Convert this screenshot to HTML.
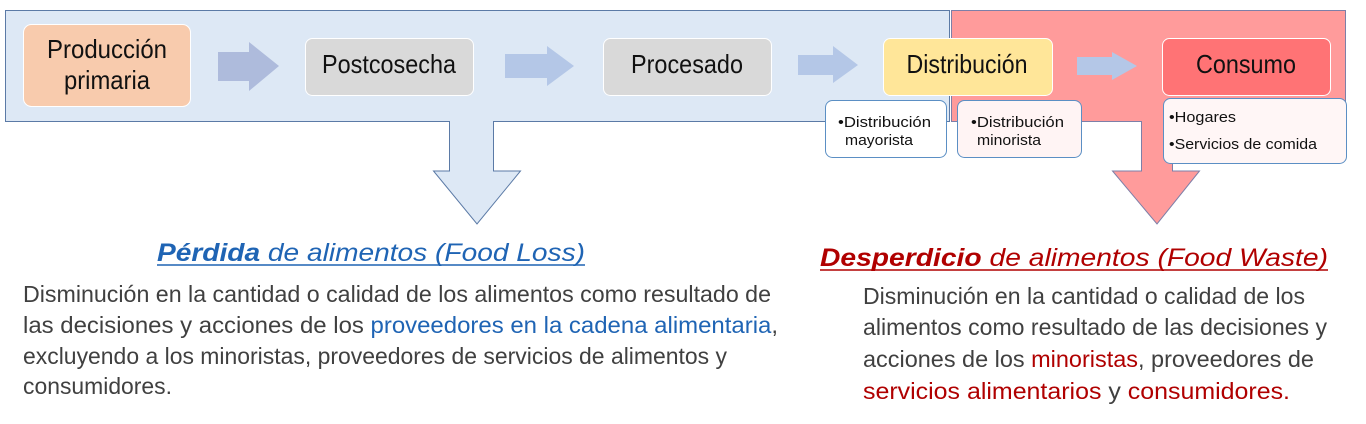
<!DOCTYPE html>
<html><head><meta charset="utf-8"><style>
html,body{margin:0;padding:0;background:#fff;}
svg{display:block;}
</style></head><body>
<svg width="1366" height="424" viewBox="0 0 1366 424" xmlns="http://www.w3.org/2000/svg">
<rect x="5.5" y="10.5" width="944" height="111" fill="#dde8f5" stroke="#5b7aa6" stroke-width="1"/>
<rect x="951.5" y="10.5" width="394" height="111" fill="#ff9b9b" stroke="#7d7fa8" stroke-width="1"/>
<polygon points="449.5,121.5 493.5,121.5 493.5,171 520.5,171 477,224 433.5,171 449.5,171" fill="#dde8f5" stroke="#5b7aa6" stroke-width="1"/>
<rect x="450" y="119" width="43" height="4" fill="#dde8f5"/>
<polygon points="1141.5,121.5 1172.5,121.5 1172.5,171 1199.5,171 1157,224 1112.5,171 1141.5,171" fill="#ff9b9b" stroke="#7d7fa8" stroke-width="1"/>
<rect x="1142" y="119" width="30" height="4" fill="#ff9b9b"/>
<rect x="23.5" y="24.5" width="167" height="82" rx="8" fill="#f8cbad" stroke="#fff"/>
<rect x="305.5" y="38.5" width="168" height="57" rx="7" fill="#d9d9d9" stroke="#fff"/>
<rect x="603.5" y="38.5" width="168" height="57" rx="7" fill="#d9d9d9" stroke="#fff"/>
<rect x="883.5" y="38.5" width="169" height="57" rx="7" fill="#ffe699" stroke="#fff"/>
<rect x="1162.5" y="38.5" width="168" height="57" rx="7" fill="#ff7375" stroke="#fff"/>
<polygon points="218,52 249,52 249,42 279,66 249,91 249,81 218,81" fill="#aebbdc"/>
<polygon points="505,54 547,54 547,46 574,66 547,86 547,78 505,78" fill="#b4c7e7"/>
<polygon points="798,55 833,55 833,46 858,65 833,83 833,75 798,75" fill="#b4c7e7"/>
<polygon points="1077,57 1112,57 1112,52 1137,66 1112,80 1112,75 1077,75" fill="#b4c7e7"/>
<g font-family="Liberation Sans, Arial, sans-serif" font-size="26" fill="#111" text-anchor="middle">
<text x="107" y="58" textLength="120" lengthAdjust="spacingAndGlyphs">Producción</text>
<text x="107" y="89" textLength="86" lengthAdjust="spacingAndGlyphs">primaria</text>
<text x="389" y="73" textLength="134" lengthAdjust="spacingAndGlyphs">Postcosecha</text>
<text x="687" y="73" textLength="112" lengthAdjust="spacingAndGlyphs">Procesado</text>
<text x="967" y="73" textLength="121" lengthAdjust="spacingAndGlyphs">Distribución</text>
<text x="1246" y="73" textLength="100" lengthAdjust="spacingAndGlyphs">Consumo</text>
</g>
<rect x="825.5" y="100.5" width="121" height="57" rx="7" fill="#fff" stroke="#5b8fc4"/>
<rect x="957.5" y="100.5" width="124" height="57" rx="7" fill="#fff4f4" stroke="#5b8fc4"/>
<rect x="1163.5" y="98.5" width="183" height="65" rx="7" fill="#fff6f6" stroke="#5b8fc4"/>
<g font-family="Liberation Sans, Arial, sans-serif" font-size="15" fill="#111">
<text x="838" y="127" textLength="93" lengthAdjust="spacingAndGlyphs">•Distribución</text>
<text x="845" y="145" textLength="68" lengthAdjust="spacingAndGlyphs">mayorista</text>
<text x="971" y="127" textLength="93" lengthAdjust="spacingAndGlyphs">•Distribución</text>
<text x="977" y="145" textLength="64" lengthAdjust="spacingAndGlyphs">minorista</text>
<text x="1169" y="122" textLength="67" lengthAdjust="spacingAndGlyphs">•Hogares</text>
<text x="1169" y="149" textLength="148" lengthAdjust="spacingAndGlyphs">•Servicios de comida</text>
</g>
<g font-family="Liberation Sans, Arial, sans-serif" font-size="25" font-style="italic">
<text x="157" y="261" fill="#1f64b4" textLength="428" lengthAdjust="spacingAndGlyphs"><tspan font-weight="bold">Pérdida</tspan> de alimentos (Food Loss)</text>
<text x="820" y="266" fill="#b00000" textLength="508" lengthAdjust="spacingAndGlyphs"><tspan font-weight="bold">Desperdicio</tspan> de alimentos (Food Waste)</text>
</g>
<line x1="157" y1="265" x2="585" y2="265" stroke="#1f64b4" stroke-width="1.5"/>
<line x1="820" y1="270" x2="1328" y2="270" stroke="#b00000" stroke-width="1.5"/>
<g font-family="Liberation Sans, Arial, sans-serif" font-size="23" fill="#404040">
<text x="23" y="302" textLength="748" lengthAdjust="spacingAndGlyphs">Disminución en la cantidad o calidad de los alimentos como resultado de</text>
<text x="23" y="333" textLength="755" lengthAdjust="spacingAndGlyphs">las decisiones y acciones de los <tspan fill="#1f64b4">proveedores en la cadena alimentaria</tspan>,</text>
<text x="23" y="364" textLength="704" lengthAdjust="spacingAndGlyphs">excluyendo a los minoristas, proveedores de servicios de alimentos y</text>
<text x="23" y="394" textLength="149" lengthAdjust="spacingAndGlyphs">consumidores.</text>
<text x="863" y="304" textLength="442" lengthAdjust="spacingAndGlyphs">Disminución en la cantidad o calidad de los</text>
<text x="863" y="335" textLength="464" lengthAdjust="spacingAndGlyphs">alimentos como resultado de las decisiones y</text>
<text x="863" y="367" textLength="451" lengthAdjust="spacingAndGlyphs">acciones de los <tspan fill="#b00000">minoristas</tspan>, proveedores de</text>
<text x="863" y="399" textLength="427" lengthAdjust="spacingAndGlyphs"><tspan fill="#b00000">servicios alimentarios</tspan> y <tspan fill="#b00000">consumidores.</tspan></text>
</g>
</svg>
</body></html>
